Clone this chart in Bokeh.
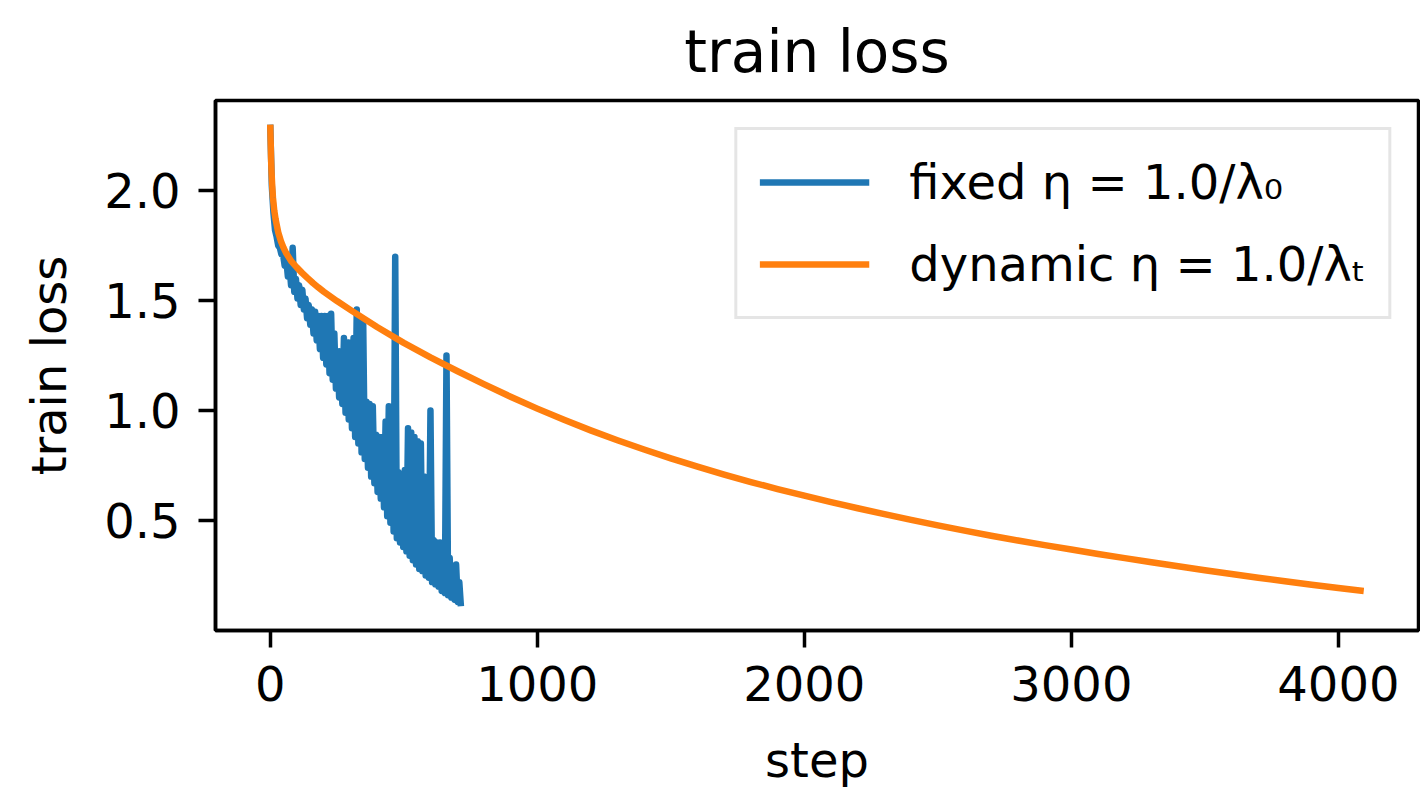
from bokeh.plotting import figure
from bokeh.models import Range1d, FixedTicker, NumeralTickFormatter, Legend, LegendItem
from bokeh.embed import file_html
from bokeh.resources import INLINE

# ---------------- data ----------------
# fixed learning rate run (steps every 6)
fixed_steps = list(range(0, 715, 6))
fixed_loss = [
    2.30, 2.02, 1.90, 1.82, 1.79, 1.75, 1.74, 1.71, 1.71, 1.66,
    1.69, 1.61, 1.66, 1.57, 1.74, 1.54, 1.60, 1.51, 1.57, 1.48,
    1.55, 1.46, 1.51, 1.42, 1.48, 1.39, 1.46, 1.35, 1.45, 1.32,
    1.43, 1.28, 1.43, 1.24, 1.43, 1.21, 1.43, 1.17, 1.44, 1.14,
    1.35, 1.10, 1.27, 1.06, 1.27, 1.03, 1.33, 0.99, 1.31, 0.96,
    1.31, 0.92, 1.33, 0.88, 1.46, 0.85, 1.42, 0.81, 1.41, 0.78,
    1.04, 0.74, 1.03, 0.70, 1.02, 0.67, 0.89, 0.63, 0.88, 0.60,
    0.88, 0.56, 0.95, 0.52, 1.02, 0.49, 0.98, 0.45, 1.70, 0.42,
    0.72, 0.40, 0.70, 0.38, 0.73, 0.36, 0.92, 0.34, 0.90, 0.32,
    0.88, 0.30, 0.86, 0.28, 0.85, 0.27, 0.70, 0.25, 0.62, 0.24,
    1.00, 0.22, 0.41, 0.21, 0.40, 0.20, 0.40, 0.18, 0.38, 0.17,
    1.25, 0.16, 0.33, 0.15, 0.29, 0.14, 0.30, 0.13, 0.22, 0.11,
]

# dynamic learning rate run
dyn_steps = [0, 1, 2, 3, 5, 7, 10, 15, 20, 25, 30, 40, 50, 60, 80, 100, 120, 140,
             160, 180, 200, 250, 300, 400, 500, 600, 700, 800, 900, 1000, 1100,
             1200, 1300, 1400, 1500, 1600, 1700, 1800, 1900, 2000, 2100, 2200,
             2300, 2400, 2500, 2600, 2700, 2800, 2900, 3000, 3100, 3200, 3300,
             3400, 3500, 3600, 3700, 3800, 3900, 4000, 4095]
dyn_loss = [2.30, 2.25, 2.20, 2.15, 2.08, 2.03, 1.97, 1.91, 1.87, 1.84, 1.81, 1.77,
            1.74, 1.715, 1.677, 1.65, 1.625, 1.602, 1.58, 1.56, 1.541, 1.498,
            1.458, 1.38, 1.308, 1.242, 1.18, 1.12, 1.063, 1.009, 0.958, 0.91,
            0.865, 0.823, 0.783, 0.745, 0.709, 0.675, 0.643, 0.613, 0.584, 0.556,
            0.529, 0.503, 0.478, 0.454, 0.431, 0.409, 0.388, 0.368, 0.348, 0.329,
            0.31, 0.292, 0.274, 0.257, 0.24, 0.224, 0.208, 0.193, 0.18]

x_ticks = [0, 1000, 2000, 3000, 4000]
y_ticks = [0.5, 1.0, 1.5, 2.0]
labels = ["fixed η = 1.0/λ₀", "dynamic η = 1.0/λₜ"]

FONT = "DejaVu Sans"

p = figure(width=1420, height=790, output_backend="svg", toolbar_location=None,
           x_range=Range1d(-205, 4300), y_range=Range1d(0.0, 2.41),
           min_border_left=215, min_border_right=2, min_border_top=100,
           min_border_bottom=158, title="train loss")

p.background_fill_color = "white"
p.border_fill_color = "white"
p.xgrid.visible = False
p.ygrid.visible = False
p.outline_line_color = "black"
p.outline_line_width = 3.5
p.outline_line_alpha = 1.0

p.title.text_font = FONT
p.title.text_font_size = "58px"
p.title.text_font_style = "normal"
p.title.text_color = "black"
p.title.align = "center"
p.title.standoff = 30

for ax in (p.xaxis[0], p.yaxis[0]):
    ax.axis_line_width = 3.5
    ax.axis_line_color = "black"
    ax.major_tick_in = 0
    ax.major_tick_out = 17
    ax.major_tick_line_width = 3.5
    ax.minor_tick_line_color = None
    ax.major_label_text_font = FONT
    ax.major_label_text_font_size = "48px"
    ax.major_label_text_color = "black"
    ax.axis_label_text_font = FONT
    ax.axis_label_text_font_size = "48px"
    ax.axis_label_text_font_style = "normal"
    ax.axis_label_text_color = "black"

p.xaxis.ticker = FixedTicker(ticks=x_ticks)
p.yaxis.ticker = FixedTicker(ticks=y_ticks)
p.xaxis.formatter = NumeralTickFormatter(format="0")
p.yaxis.formatter = NumeralTickFormatter(format="0.0")
p.xaxis.axis_label = "step"
p.yaxis.axis_label = "train loss"
p.xaxis.major_label_standoff = 18
p.yaxis.major_label_standoff = 18
p.xaxis.axis_label_standoff = 28
p.yaxis.axis_label_standoff = 24

r1 = p.line(fixed_steps, fixed_loss, line_color="#1f77b4", line_width=6.5,
            line_join="round")
r2 = p.line(dyn_steps, dyn_loss, line_color="#ff7f0e", line_width=6.5,
            line_join="round")

legend = Legend(items=[LegendItem(label=labels[0], renderers=[r1]),
                       LegendItem(label=labels[1], renderers=[r2])],
                location="top_right")
legend.margin = 27
legend.padding = 22
legend.spacing = 22
legend.glyph_width = 110
legend.glyph_height = 60
legend.label_height = 60
legend.label_standoff = 40
legend.label_text_font = FONT
legend.label_text_font_size = "48px"
legend.label_text_color = "black"
legend.border_line_color = "#cccccc"
legend.border_line_width = 3
legend.background_fill_alpha = 0.8
p.add_layout(legend)

open("out.html", "w").write(file_html(p, INLINE))
